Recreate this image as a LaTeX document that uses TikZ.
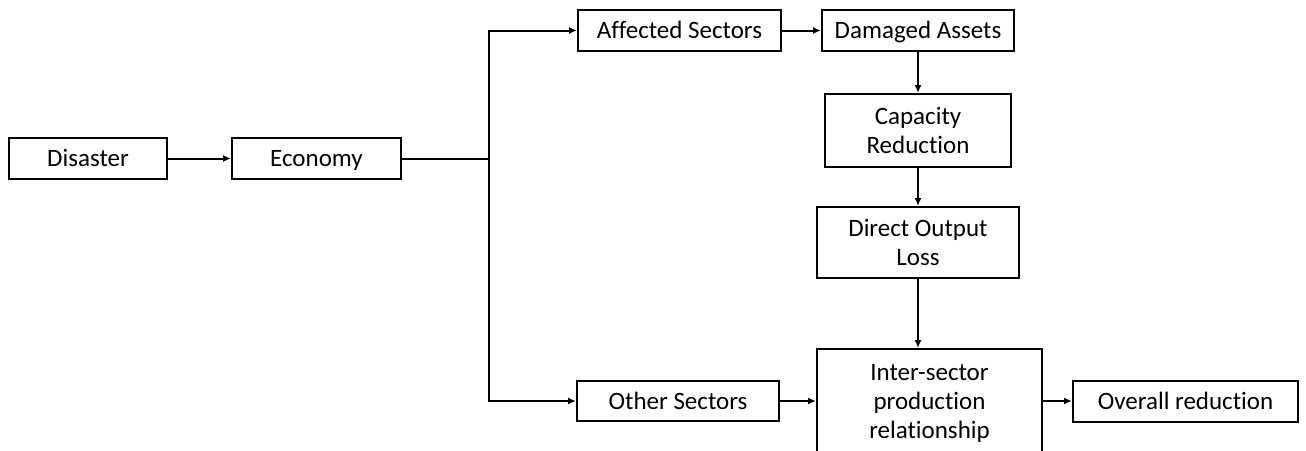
\documentclass[tikz,border=0pt]{standalone}
\usepackage{fontspec}
\setmainfont{Carlito}[Ligatures={NoCommon}]
\usetikzlibrary{arrows.meta}

% cap-height strut for the first line of a stacked label
\newcommand{\capstrut}{\rule{0pt}{0.64em}}

\begin{document}
\begin{tikzpicture}[x=1pt, y=-1pt,
  box/.style={draw=black, line width=2pt, rectangle, inner sep=0pt,
    font=\fontsize{25}{29}\selectfont, text=black},
  oneline/.style={box, text height=16pt, text depth=0pt},
  stacked/.style={box, align=center},
  link/.style={line width=2pt, -{Latex[length=8pt,width=7pt]}},
  plain/.style={line width=2pt}]
  % page frame
  \path[use as bounding box] (0,0) rectangle (1306,450);
  \clip (0,0) rectangle (1306,450);

  % boxes
  \node[oneline, minimum width=158pt, minimum height=41pt] (dis) at (88,158.5) {Disaster};
  \node[oneline, minimum width=169pt, minimum height=41pt] (eco) at (316.5,158.5) {Economy};
  \node[oneline, minimum width=203pt, minimum height=41pt] (aff) at (679.5,30.5) {Affected Sectors};
  \node[oneline, minimum width=192pt, minimum height=41pt] (dam) at (918,30.5) {Damaged Assets};
  \node[stacked, minimum width=186pt, minimum height=73pt] (cap) at (918,130.5)
    {\capstrut\smash{Capacity}\\\smash{Reduction}};
  \node[stacked, minimum width=202pt, minimum height=71pt] (dol) at (918,242.5)
    {\capstrut\smash{Direct Output}\\\smash{Loss}};
  \node[oneline, minimum width=202pt, minimum height=40pt] (oth) at (678,401) {Other Sectors};
  \node[stacked, minimum width=225pt, minimum height=104pt] (isp) at (929.5,401)
    {\capstrut\smash{Inter-sector}\\production\\\smash{relationship}};
  \node[oneline, minimum width=225pt, minimum height=41pt] (ovr) at (1185.5,401) {Overall reduction};

  % branching point after the economy box
  \coordinate (fork) at (489,158.5);

  % connectors
  \draw[link] (dis) -- (eco);
  \draw[plain] (eco.east) -- (fork);
  \draw[link] (fork) |- (aff.west);
  \draw[link] (fork) |- (oth.west);
  \draw[link] (aff) -- (dam);
  \draw[link] (dam) -- (cap);
  \draw[link] (cap) -- (dol);
  \draw[link] (dol.south) -- (dol.south |- isp.north);
  \draw[link] (oth) -- (oth.east -| isp.west);
  \draw[link] (isp.east |- ovr.west) -- (ovr.west);
\end{tikzpicture}
\end{document}
